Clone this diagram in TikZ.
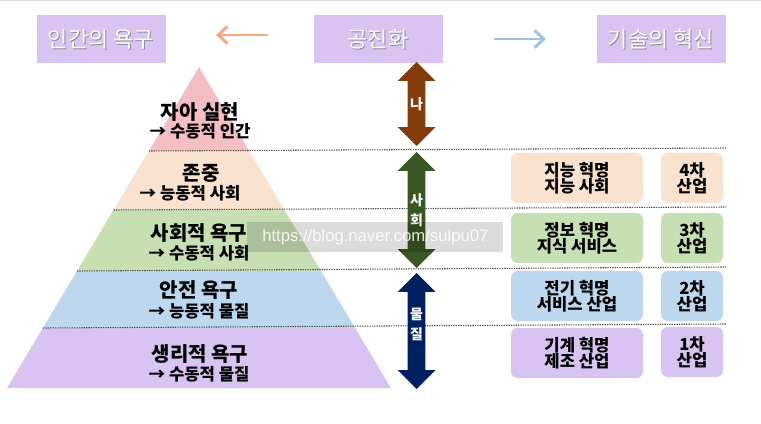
\documentclass[tikz,border=0pt]{standalone}
\usepackage{fontspec}
\setmainfont{Noto Sans CJK KR}
\newfontfamily\urlfont{Liberation Sans}
\usetikzlibrary{shapes.arrows,arrows.meta}
\definecolor{lavender}{HTML}{D9C3F2}
\definecolor{pinkl}{HTML}{F5BEC2}
\definecolor{peach}{HTML}{F9E2CF}
\definecolor{greenl}{HTML}{C6E0B4}
\definecolor{bluel}{HTML}{BDD7EE}
\definecolor{brownd}{HTML}{843C0C}
\definecolor{greend}{HTML}{385723}
\definecolor{navyd}{HTML}{002060}
\definecolor{orangea}{HTML}{F4AA7C}
\definecolor{bluea}{HTML}{9DC3E6}
\begin{document}
\begin{tikzpicture}[x=0.75pt,y=-0.75pt]
        \tikzstyle{header}=[fill=lavender,minimum width=96.75pt,minimum height=36pt,inner sep=0pt];
        \tikzstyle{hdrtext}=[text=white,font=\fontsize{16.5}{18}\selectfont];
        \tikzstyle{hdrshadow}=[text=black!45,font=\fontsize{16.5}{18}\selectfont];
        \tikzstyle{title}=[font=\bfseries\fontsize{15}{17}\selectfont];
        \tikzstyle{sub}=[font=\bfseries\fontsize{12.5}{14}\selectfont];
        \tikzstyle{era}=[rounded corners=5pt,minimum width=99pt,minimum height=37.5pt,align=center,inner sep=0pt,font=\bfseries\fontsize{12.5}{12}\selectfont];
        \tikzstyle{ind}=[era,minimum width=46.5pt];
        \tikzstyle{dots}=[black!70,line width=0.8pt,dash pattern=on 1pt off 0.8pt];
        \tikzstyle{dbl}=[double arrow,rotate=90,inner xsep=0pt,inner ysep=6.4pt,double arrow head extend=7.5pt];
        \tikzstyle{axis}=[text=white,align=center,font=\bfseries\fontsize{10.5}{15}\selectfont];
        \useasboundingbox (0,0) rectangle (761,424);
        \draw[black!12] (0,0.5) -- (761,0.5);
        % headers
        \node[header] (need) at (101,39) {};
        \node[hdrshadow] at (102,40) {인간의 욕구};
        \node[hdrtext] at (need) {인간의 욕구};
        \node[header] (coevo) at (378,39) {};
        \node[hdrshadow] at (379,40) {공진화};
        \node[hdrtext] at (coevo) {공진화};
        \node[header] (tech) at (661,39) {};
        \node[hdrshadow] at (662,40) {기술의 혁신};
        \node[hdrtext] at (tech) {기술의 혁신};
        \coordinate (ol) at (216,35);
        \coordinate (or) at (268,35);
        \coordinate (bl) at (494,39);
        \coordinate (br) at (546,39);
        \draw[orangea,line width=2.2pt,-{Straight Barb[length=7pt,width=13pt]}] (or) -- (ol);
        \draw[bluea,line width=2.2pt,-{Straight Barb[length=7pt,width=13pt]}] (bl) -- (br);
        % pyramid
        \fill[pinkl] (199,67) -- (249.2,151) -- (148.8,151) -- cycle;
        \fill[peach] (148.8,151) -- (249.2,151) -- (284.5,210) -- (113.5,210) -- cycle;
        \fill[greenl] (113.5,210) -- (284.5,210) -- (321,271) -- (77,271) -- cycle;
        \fill[bluel] (77,271) -- (321,271) -- (355.1,328) -- (42.9,328) -- cycle;
        \fill[lavender] (42.9,328) -- (355.1,328) -- (391,388) -- (7,388) -- cycle;
        \draw[dots] (148.8,151) -- (726,148);
        \draw[dots] (113.5,210) -- (726,207);
        \draw[dots] (77,271) -- (726,267);
        \draw[dots] (42.9,328) -- (726,324);
        \node[title] (self) at (200,112) {자아 실현};
        \node[sub] (selfsub) at (200,131) {→ 수동적 인간};
        \node[title] (esteem) at (201,173) {존중};
        \node[sub] (esteemsub) at (190,193) {→ 능동적 사회};
        \node[title] (social) at (199,233) {사회적 욕구};
        \node[sub] (socialsub) at (199,253) {→ 수동적 사회};
        \node[title] (safety) at (199,290) {안전 욕구};
        \node[sub] (safetysub) at (199,311) {→ 능동적 물질};
        \node[title] (body) at (200,354) {생리적 욕구};
        \node[sub] (bodysub) at (199,374) {→ 수동적 물질};
        % double arrows
        \node[dbl,fill=brownd,minimum height=63pt] (me) at (416.5,104) {};
        \node[axis] at (me) {나};
        \node[dbl,fill=greend,minimum height=87pt] (soc) at (416.5,210) {};
        \node[axis] at (416.5,210) {사\\회};
        \node[dbl,fill=navyd,minimum height=87pt] (mat) at (416.5,331) {};
        \node[axis] at (416.5,324) {물\\질};
        % revolutions
        \node[era,fill=peach] (r4) at (577,178) {지능 혁명\\지능 사회};
        \node[ind,fill=peach] (i4) at (692,178) {4차\\산업};
        \node[era,fill=greenl] (r3) at (577,238) {정보 혁명\\지식 서비스};
        \node[ind,fill=greenl] (i3) at (692,238) {3차\\산업};
        \node[era,fill=bluel] (r2) at (577,296) {전기 혁명\\서비스 산업};
        \node[ind,fill=bluel] (i2) at (692,296) {2차\\산업};
        \node[era,fill=lavender] (r1) at (577,353) {기계 혁명\\제조 산업};
        \node[ind,fill=lavender] (i1) at (692,352) {1차\\산업};
        % watermark
        \fill[black,opacity=0.14] (247,222) rectangle (503,252);
        \node[anchor=west,text=white,opacity=0.85,inner sep=0pt,font=\urlfont\fontsize{12.5}{14}\selectfont] (mark) at (262,237) {https://blog.naver.com/sulpu07};
\end{tikzpicture}
\end{document}
